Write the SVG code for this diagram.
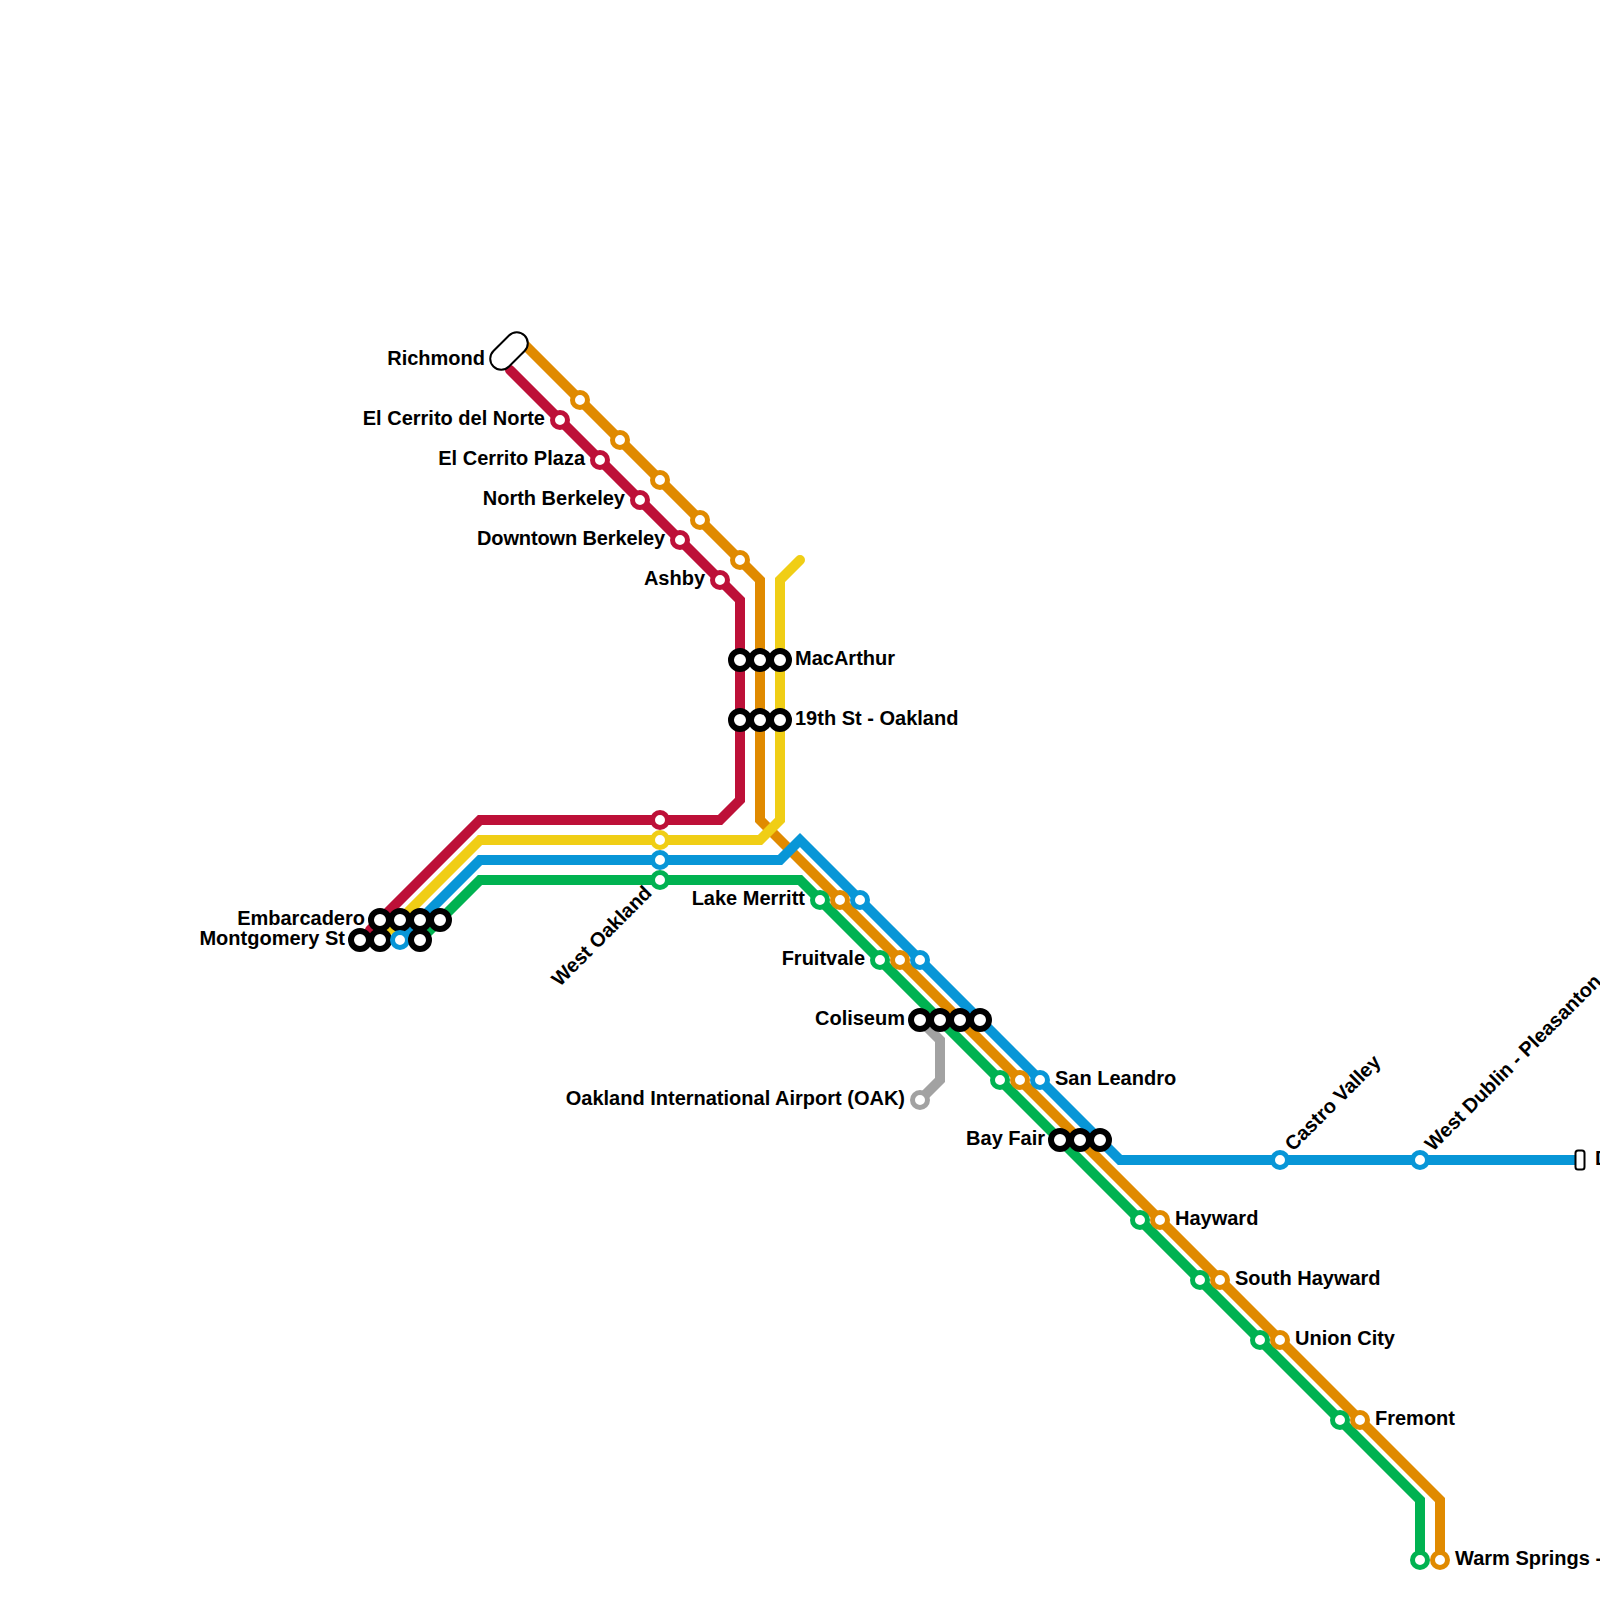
<svg xmlns="http://www.w3.org/2000/svg" width="1600" height="1600" viewBox="0 0 1600 1600">
<style>
.l{fill:none;stroke-width:10;stroke-linejoin:miter;stroke-linecap:round}
.s{fill:#fff;stroke-width:5;r:7.5px}
.x{fill:#fff;stroke:#000;stroke-width:6;r:9px}
.t{fill:#fff;stroke:#000;stroke-width:2}
text{font-family:"Liberation Sans",Arial,sans-serif;font-weight:700;font-size:20px;fill:#000}
.e{text-anchor:end}
.red{stroke:#bd1038}.ora{stroke:#e08a00}.yel{stroke:#f0ce15}.blu{stroke:#0896d7}.grn{stroke:#00b251}.gry{stroke:#a2a2a2}
</style>
<rect width="1600" height="1600" fill="#fff"/>
<g id="connectors">
<path class="l red" d="M510 370L740 600V800L720 820H480L370 930"/>
<path class="l gry" d="M920 1020L940 1040V1080L920 1100"/>
<path class="l ora" d="M525 345L760 580V820L1440 1500V1560"/>
<path class="l yel" d="M800 560L780 580V820L760 840H480L390 930"/>
<path class="l blu" d="M400 940L480 860H780L800 840L1120 1160H1580"/>
<path class="l grn" d="M420 940L480 880H800L1420 1500V1560"/>
</g>
<g id="richmond"><rect class="t" x="487" y="340" width="44" height="22" rx="11" transform="rotate(-45 509 351)"/><text class="e" x="485" y="365">Richmond</text></g>
<g id="el-cerrito-del-norte"><circle class="s red" cx="560" cy="420"/><circle class="s ora" cx="580" cy="400"/><text class="e" x="545" y="425">El Cerrito del Norte</text></g>
<g id="el-cerrito-plaza"><circle class="s red" cx="600" cy="460"/><circle class="s ora" cx="620" cy="440"/><text class="e" x="585" y="465">El Cerrito Plaza</text></g>
<g id="north-berkeley"><circle class="s red" cx="640" cy="500"/><circle class="s ora" cx="660" cy="480"/><text class="e" x="625" y="505">North Berkeley</text></g>
<g id="downtown-berkeley"><circle class="s red" cx="680" cy="540"/><circle class="s ora" cx="700" cy="520"/><text class="e" x="665" y="545" textLength="188">Downtown Berkeley</text></g>
<g id="ashby"><circle class="s red" cx="720" cy="580"/><circle class="s ora" cx="740" cy="560"/><text class="e" x="705" y="585">Ashby</text></g>
<g id="macarthur"><circle class="x" cx="740" cy="660"/><circle class="x" cx="760" cy="660"/><circle class="x" cx="780" cy="660"/><text x="795" y="665">MacArthur</text></g>
<g id="nineteenth"><circle class="x" cx="740" cy="720"/><circle class="x" cx="760" cy="720"/><circle class="x" cx="780" cy="720"/><text x="795" y="725">19th St - Oakland</text></g>
<g id="west-oakland"><circle class="s red" cx="660" cy="820"/><circle class="s yel" cx="660" cy="840"/><circle class="s blu" cx="660" cy="860"/><circle class="s grn" cx="660" cy="880"/><text class="e" transform="rotate(-45 653 894)" x="653" y="894">West Oakland</text></g>
<g id="embarcadero"><circle class="x" cx="380" cy="920"/><circle class="x" cx="400" cy="920"/><circle class="x" cx="420" cy="920"/><circle class="x" cx="440" cy="920"/><text class="e" x="365" y="925">Embarcadero</text></g>
<g id="montgomery"><circle class="x" cx="360" cy="940"/><circle class="x" cx="380" cy="940"/><circle class="s blu" cx="400" cy="940"/><circle class="x" cx="420" cy="940"/><text class="e" x="345" y="945">Montgomery St</text></g>
<g id="lake-merritt"><circle class="s grn" cx="820" cy="900"/><circle class="s ora" cx="840" cy="900"/><circle class="s blu" cx="860" cy="900"/><text class="e" x="805" y="905">Lake Merritt</text></g>
<g id="fruitvale"><circle class="s grn" cx="880" cy="960"/><circle class="s ora" cx="900" cy="960"/><circle class="s blu" cx="920" cy="960"/><text class="e" x="865" y="965">Fruitvale</text></g>
<g id="coliseum"><circle class="x" cx="920" cy="1020"/><circle class="x" cx="940" cy="1020"/><circle class="x" cx="960" cy="1020"/><circle class="x" cx="980" cy="1020"/><text class="e" x="905" y="1025">Coliseum</text></g>
<g id="oak"><circle class="s gry" cx="920" cy="1100"/><text class="e" x="905" y="1105">Oakland International Airport (OAK)</text></g>
<g id="san-leandro"><circle class="s grn" cx="1000" cy="1080"/><circle class="s ora" cx="1020" cy="1080"/><circle class="s blu" cx="1040" cy="1080"/><text x="1055" y="1085">San Leandro</text></g>
<g id="bay-fair"><circle class="x" cx="1060" cy="1140"/><circle class="x" cx="1080" cy="1140"/><circle class="x" cx="1100" cy="1140"/><text class="e" x="1045" y="1145">Bay Fair</text></g>
<g id="castro-valley"><circle class="s blu" cx="1280" cy="1160"/><text transform="rotate(-45 1293 1152)" x="1293" y="1152">Castro Valley</text></g>
<g id="west-dublin"><circle class="s blu" cx="1420" cy="1160"/><text transform="rotate(-45 1433 1152)" x="1433" y="1152">West Dublin - Pleasanton</text></g>
<g id="dublin"><rect class="t" x="1575.5" y="1150.5" width="9" height="19" rx="2.5"/><text x="1595" y="1165">D</text></g>
<g id="hayward"><circle class="s grn" cx="1140" cy="1220"/><circle class="s ora" cx="1160" cy="1220"/><text x="1175" y="1225">Hayward</text></g>
<g id="south-hayward"><circle class="s grn" cx="1200" cy="1280"/><circle class="s ora" cx="1220" cy="1280"/><text x="1235" y="1285">South Hayward</text></g>
<g id="union-city"><circle class="s grn" cx="1260" cy="1340"/><circle class="s ora" cx="1280" cy="1340"/><text x="1295" y="1345">Union City</text></g>
<g id="fremont"><circle class="s grn" cx="1340" cy="1420"/><circle class="s ora" cx="1360" cy="1420"/><text x="1375" y="1425">Fremont</text></g>
<g id="warm-springs"><circle class="s grn" cx="1420" cy="1560"/><circle class="s ora" cx="1440" cy="1560"/><text x="1455" y="1565">Warm Springs -</text></g>
</svg>
